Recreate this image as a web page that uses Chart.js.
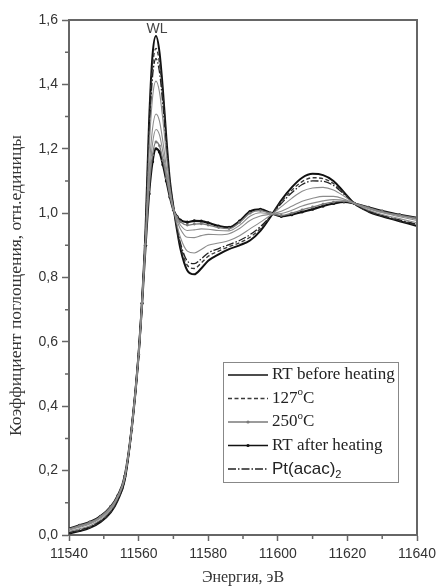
<!DOCTYPE html>
<html>
<head>
<meta charset="utf-8">
<script src="https://cdn.jsdelivr.net/npm/chart.js@4.4.0/dist/chart.umd.min.js"></script>
<style>
    html, body { margin: 0; padding: 0; background: #fff; }
    #wrap { width: 437px; height: 587px; position: relative; }
</style>
</head>
<body>
<div id="wrap"><canvas id="xanes"></canvas></div>
<script>
// Energy grid (eV)
const energy = [11540, 11543, 11546, 11549, 11552, 11554, 11556, 11558, 11560, 11561,
    11562, 11563, 11564, 11565, 11566, 11567, 11568, 11569, 11570, 11571,
    11572, 11574, 11576, 11578, 11580, 11583, 11586, 11589, 11592, 11595,
    11598, 11601, 11604, 11607, 11610, 11613, 11616, 11619, 11622, 11626,
    11630, 11635, 11640];

// Absorption spectra
const rtBefore = [0.005, 0.012, 0.022, 0.040, 0.070, 0.108, 0.170, 0.330, 0.560, 0.730,
    0.950, 1.280, 1.490, 1.550, 1.500, 1.380, 1.230, 1.100, 1.020, 0.950,
    0.890, 0.822, 0.810, 0.828, 0.852, 0.872, 0.888, 0.900, 0.915, 0.945,
    0.990, 1.040, 1.080, 1.110, 1.122, 1.118, 1.100, 1.065, 1.030, 1.005,
    0.990, 0.975, 0.960];
const t127 = [0.007, 0.014, 0.024, 0.042, 0.072, 0.110, 0.171, 0.330, 0.560, 0.729,
    0.945, 1.256, 1.454, 1.512, 1.466, 1.355, 1.216, 1.095, 1.019, 0.954,
    0.900, 0.838, 0.828, 0.845, 0.866, 0.882, 0.896, 0.908, 0.925, 0.952,
    0.991, 1.035, 1.071, 1.098, 1.110, 1.107, 1.092, 1.062, 1.030, 1.006,
    0.992, 0.977, 0.963];
const ptAcac = [0.008, 0.016, 0.026, 0.044, 0.074, 0.111, 0.172, 0.330, 0.560, 0.728,
    0.940, 1.236, 1.424, 1.480, 1.438, 1.334, 1.204, 1.090, 1.018, 0.958,
    0.908, 0.851, 0.843, 0.858, 0.876, 0.890, 0.902, 0.915, 0.933, 0.958,
    0.992, 1.030, 1.063, 1.089, 1.100, 1.099, 1.086, 1.059, 1.030, 1.008,
    0.993, 0.979, 0.965];
const mid1 = [0.011, 0.019, 0.029, 0.047, 0.077, 0.114, 0.175, 0.330, 0.560, 0.726,
    0.930, 1.192, 1.358, 1.410, 1.376, 1.288, 1.178, 1.080, 1.016, 0.966,
    0.925, 0.882, 0.876, 0.887, 0.900, 0.907, 0.915, 0.930, 0.951, 0.972,
    0.994, 1.020, 1.046, 1.068, 1.078, 1.080, 1.072, 1.053, 1.030, 1.010,
    0.996, 0.983, 0.970];
const mid2 = [0.015, 0.024, 0.034, 0.052, 0.082, 0.118, 0.178, 0.330, 0.560, 0.723,
    0.915, 1.128, 1.262, 1.308, 1.286, 1.221, 1.140, 1.066, 1.013, 0.978,
    0.951, 0.925, 0.924, 0.930, 0.934, 0.933, 0.936, 0.952, 0.977, 0.991,
    0.997, 1.006, 1.021, 1.037, 1.046, 1.052, 1.052, 1.044, 1.030, 1.014,
    1.001, 0.989, 0.977];
const mid3 = [0.017, 0.027, 0.037, 0.055, 0.085, 0.120, 0.180, 0.330, 0.560, 0.722,
    0.909, 1.097, 1.216, 1.260, 1.243, 1.189, 1.122, 1.058, 1.012, 0.983,
    0.963, 0.946, 0.948, 0.951, 0.950, 0.946, 0.945, 0.962, 0.990, 1.001,
    0.998, 0.999, 1.009, 1.022, 1.031, 1.038, 1.042, 1.040, 1.030, 1.016,
    1.003, 0.992, 0.981];
const t250 = [0.019, 0.029, 0.039, 0.057, 0.087, 0.121, 0.181, 0.330, 0.560, 0.721,
    0.903, 1.073, 1.180, 1.221, 1.209, 1.164, 1.108, 1.053, 1.011, 0.988,
    0.973, 0.963, 0.966, 0.967, 0.963, 0.955, 0.952, 0.971, 1.000, 1.008,
    0.999, 0.993, 1.000, 1.010, 1.019, 1.028, 1.034, 1.037, 1.030, 1.017,
    1.005, 0.994, 0.984];
const rtAfter = [0.020, 0.030, 0.040, 0.058, 0.088, 0.122, 0.182, 0.330, 0.560, 0.720,
    0.900, 1.060, 1.160, 1.200, 1.190, 1.150, 1.100, 1.050, 1.010, 0.990,
    0.978, 0.972, 0.976, 0.975, 0.970, 0.960, 0.956, 0.975, 1.005, 1.012,
    1.000, 0.990, 0.995, 1.004, 1.012, 1.022, 1.030, 1.035, 1.030, 1.018,
    1.006, 0.995, 0.985];

const wlEnergy = 11565;
const wlLabel = 'WL';
const xTitle = 'Энергия, эВ';
const yTitle = 'Коэффициент поглощения, отн.единицы';

// legend rows: text pieces [text, kind] where kind = '', 'sup' or 'sub'
const legendRows = [
    { parts: [['RT before heating', '']], serif: true },
    { parts: [['127', ''], ['o', 'sup'], ['C', '']], serif: true },
    { parts: [['250', ''], ['o', 'sup'], ['C', '']], serif: true },
    { parts: [['RT after heating', '']], serif: true },
    { parts: [['Pt(acac)', ''], ['2', 'sub']], serif: false }
];

function toPoints(arr) {
    return energy.map((e, i) => ({ x: e, y: arr[i] }));
}

const styles = {
    rtBefore: { color: '#111', width: 2, dash: [], dot: 0 },
    t127: { color: '#3a3a3a', width: 1.4, dash: [4, 2.5], dot: 0 },
    t250: { color: '#7a7a7a', width: 1.3, dash: [], dot: 1.4 },
    rtAfter: { color: '#111', width: 2.2, dash: [], dot: 1.6 },
    ptAcac: { color: '#222', width: 1.3, dash: [8, 2, 1.5, 2], dot: 0 },
    mid: { color: '#8c8c8c', width: 1.1, dash: [], dot: 0 }
};

function ds(label, arr, s) {
    return {
        label: label,
        data: toPoints(arr),
        borderColor: s.color,
        backgroundColor: s.color,
        borderWidth: s.width,
        borderDash: s.dash,
        pointRadius: s.dot,
        pointBorderWidth: 0,
        cubicInterpolationMode: 'monotone',
        fill: false
    };
}

const datasets = [
    ds('mid1', mid1, styles.mid),
    ds('mid2', mid2, styles.mid),
    ds('mid3', mid3, styles.mid),
    ds('250C', t250, styles.t250),
    ds('Pt(acac)2', ptAcac, styles.ptAcac),
    ds('127C', t127, styles.t127),
    ds('RT after heating', rtAfter, styles.rtAfter),
    ds('RT before heating', rtBefore, styles.rtBefore)
];
const legendStyles = [styles.rtBefore, styles.t127, styles.t250, styles.rtAfter, styles.ptAcac];

const axisColor = '#666';
const serif = '"Liberation Serif", "DejaVu Serif", serif';
const sans = '"Liberation Sans", Arial, sans-serif';

function isMajorX(v) { return Math.round(v) % 20 === 0; }
function isMajorY(v) { return Math.round(v * 10) % 2 === 0; }

// Extra drawing: frame, minor ticks, labels, legend
const decor = {
    id: 'decor',
    afterDraw(chart) {
        const ctx = chart.ctx;
        const a = chart.chartArea;
        const x = chart.scales.x;
        const y = chart.scales.y;
        ctx.save();

        // top and right frame
        ctx.strokeStyle = axisColor;
        ctx.lineWidth = 2;
        ctx.beginPath();
        ctx.moveTo(a.left, a.top);
        ctx.lineTo(a.right, a.top);
        ctx.lineTo(a.right, a.bottom);
        ctx.stroke();

        // minor ticks
        ctx.lineWidth = 1.5;
        ctx.beginPath();
        x.ticks.forEach(t => {
            if (!isMajorX(t.value)) {
                const px = x.getPixelForValue(t.value);
                ctx.moveTo(px, a.bottom);
                ctx.lineTo(px, a.bottom + 4);
            }
        });
        y.ticks.forEach(t => {
            if (!isMajorY(t.value)) {
                const py = y.getPixelForValue(t.value);
                ctx.moveTo(a.left - 4, py);
                ctx.lineTo(a.left, py);
            }
        });
        ctx.stroke();

        // WL label
        ctx.fillStyle = '#444';
        ctx.font = '14px ' + sans;
        ctx.textAlign = 'center';
        ctx.textBaseline = 'alphabetic';
        ctx.fillText(wlLabel, x.getPixelForValue(wlEnergy) + 1, y.getPixelForValue(1.560));

        // axis titles
        ctx.fillStyle = '#333';
        ctx.font = '16px ' + serif;
        ctx.textBaseline = 'middle';
        ctx.fillText(xTitle, (a.left + a.right) / 2, 578);
        ctx.save();
        ctx.translate(16, (a.top + a.bottom) / 2 + 8);
        ctx.rotate(-Math.PI / 2);
        ctx.font = '17.5px ' + serif;
        ctx.fillText(yTitle, 0, 0);
        ctx.restore();

        // legend box
        const bx = 223, by = 362, bw = 175, bh = 120;
        ctx.fillStyle = '#fff';
        ctx.fillRect(bx, by, bw, bh);
        ctx.strokeStyle = '#888';
        ctx.lineWidth = 1;
        ctx.strokeRect(bx + 0.5, by + 0.5, bw, bh);

        legendRows.forEach((row, i) => {
            const s = legendStyles[i];
            const ry = 375 + i * 23.5;
            ctx.strokeStyle = s.color;
            ctx.lineWidth = Math.min(s.width, 1.5);
            ctx.setLineDash(s.dash);
            ctx.beginPath();
            ctx.moveTo(228, ry);
            ctx.lineTo(268, ry);
            ctx.stroke();
            ctx.setLineDash([]);
            if (s.dot) {
                ctx.fillStyle = s.color;
                ctx.beginPath();
                ctx.arc(248, ry, 1.6, 0, Math.PI * 2);
                ctx.fill();
            }
            let tx = 272;
            ctx.fillStyle = '#222';
            ctx.textAlign = 'left';
            ctx.textBaseline = 'middle';
            const fam = row.serif ? serif : sans;
            row.parts.forEach(p => {
                let dy = 0;
                if (p[1] === 'sup') { ctx.font = '11px ' + fam; dy = -6; }
                else if (p[1] === 'sub') { ctx.font = '11px ' + fam; dy = 6; }
                else { ctx.font = '17px ' + fam; }
                ctx.fillText(p[0], tx, ry + dy);
                tx += ctx.measureText(p[0]).width;
            });
        });

        ctx.restore();
    }
};

const ctx = document.getElementById('xanes').getContext('2d');
new Chart(ctx, {
    type: 'line',
    data: { datasets: datasets },
    options: {
        responsive: true,
        maintainAspectRatio: false,
        animation: false,
        layout: { padding: { left: 0, top: 20, right: 20, bottom: 0 } },
        plugins: {
            legend: { display: false },
            tooltip: { enabled: false }
        },
        scales: {
            x: {
                type: 'linear',
                min: 11540,
                max: 11640,
                afterFit: function(scale) {
                    scale.height = 52;
                    scale.paddingLeft = 0;
                    scale.paddingRight = 0;
                },
                border: { color: axisColor, width: 2 },
                grid: {
                    drawOnChartArea: false,
                    tickLength: 6,
                    tickWidth: 1.5,
                    tickColor: c => (c.tick && isMajorX(c.tick.value)) ? axisColor : 'rgba(0,0,0,0)'
                },
                ticks: {
                    stepSize: 10,
                    maxRotation: 0,
                    autoSkip: false,
                    color: '#333',
                    padding: 5,
                    font: { family: sans, size: 14 },
                    callback: v => isMajorX(v) ? String(v) : ''
                }
            },
            y: {
                min: 0,
                max: 1.6,
                afterFit: function(scale) {
                    scale.width = 69;
                    scale.paddingTop = 0;
                    scale.paddingBottom = 0;
                },
                border: { color: axisColor, width: 2 },
                grid: {
                    drawOnChartArea: false,
                    tickLength: 7,
                    tickWidth: 1.5,
                    tickColor: c => (c.tick && isMajorY(c.tick.value)) ? axisColor : 'rgba(0,0,0,0)'
                },
                ticks: {
                    stepSize: 0.1,
                    autoSkip: false,
                    color: '#333',
                    padding: 4,
                    font: { family: sans, size: 14 },
                    callback: v => isMajorY(v) ? v.toFixed(1).replace('.', ',') : ''
                }
            }
        }
    },
    plugins: [decor]
});
</script>
</body>
</html>
